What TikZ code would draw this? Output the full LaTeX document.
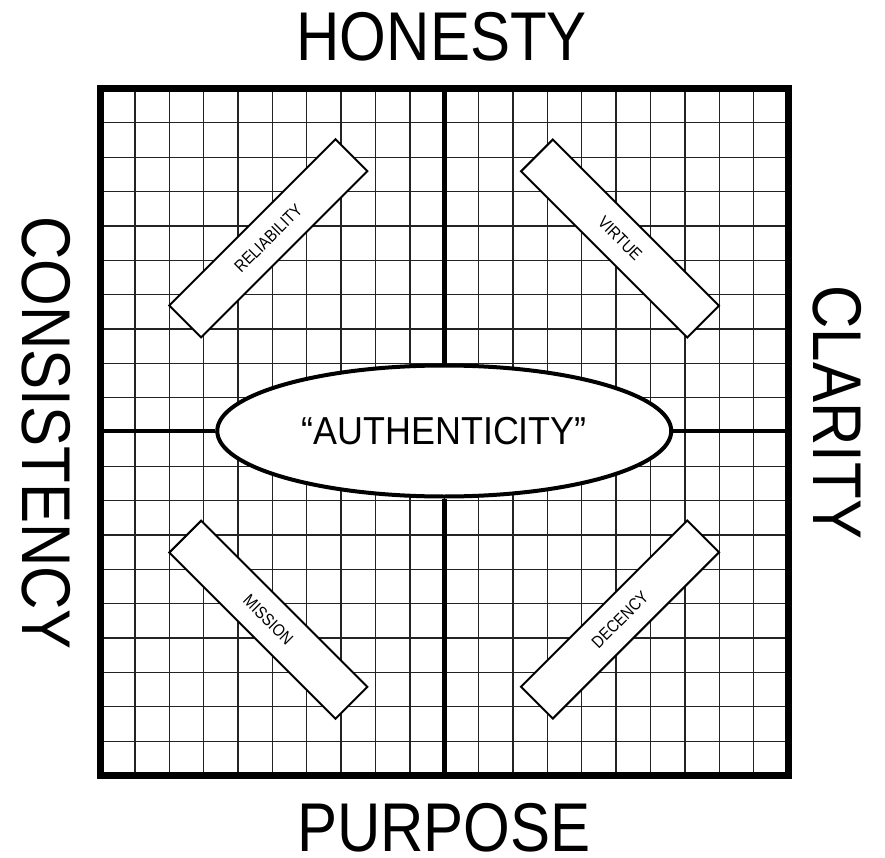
\documentclass[tikz,border=0pt]{standalone}
\usepackage{xcolor}
\usepackage{tikz}
\usepackage{graphicx}
\usepackage{fontspec}
\setmainfont{Liberation Sans}
\usetikzlibrary{shapes.geometric, positioning, calc}
\definecolor{gridgray}{RGB}{35, 35, 35}
\newcommand{\squeezed}[1]{\scalebox{0.87}[1]{#1}}
\tikzset{
    axislabel/.style={inner sep=0pt, font=\fontsize{69}{80}\selectfont},
    valuebox/.style={draw=black, fill=white, line width=2pt, minimum width=235pt,
                     minimum height=45pt, inner sep=0pt, font=\fontsize{17}{20}\selectfont}
}

\begin{document}
\begin{tikzpicture}[x=1pt, y=-1pt]
            \useasboundingbox (0,0) rectangle (885,858);
            \foreach \k in {1,...,19} {
                \draw[gridgray, line width=1.3pt] ({100.5+34.375*\k},88.5) -- ({100.5+34.375*\k},775.5);
                \draw[gridgray, line width=1.3pt] (100.5,{88.5+34.35*\k}) -- (788,{88.5+34.35*\k});
            }
            \coordinate (northmid) at (444.25,88.5);
            \coordinate (southmid) at (444.25,775.5);
            \coordinate (westmid) at (100.5,431);
            \coordinate (eastmid) at (788,431);
            \node[ellipse, draw=black, fill=white, line width=4pt, minimum width=454pt,
                  minimum height=131pt, inner sep=0pt] (authenticity) at (444.25,431) {
                {\fontsize{39}{46}\selectfont\scalebox{0.92}[1]{``AUTHENTICITY''}}
            };
            \draw[line width=4.5pt] (authenticity.north) -- (northmid);
            \draw[line width=4.5pt] (authenticity.south) -- (southmid);
            \draw[line width=4.5pt] (authenticity.west) -- (westmid);
            \draw[line width=4.5pt] (authenticity.east) -- (eastmid);
            \draw[line width=7pt] (100.5,88.5) rectangle (788,775.5);
            \node[valuebox, rotate=45] (reliability) at (268.3,238.3) {\squeezed{RELIABILITY}};
            \node[valuebox, rotate=-45] (virtue) at (620,238.5) {\squeezed{VIRTUE}};
            \node[valuebox, rotate=-45] (mission) at (268.3,619.7) {\squeezed{MISSION}};
            \node[valuebox, rotate=45] (decency) at (620,619.5) {\squeezed{DECENCY}};
            \node[axislabel] (honesty) at (441.7,36.5) {\squeezed{HONESTY}};
            \node[axislabel] (purpose) at (444,827.5) {\squeezed{PURPOSE}};
            \node[axislabel, rotate=-90] (consistency) at (46.7,433) {\squeezed{CONSISTENCY}};
            \node[axislabel, rotate=-90] (clarity) at (837.3,412.3) {\squeezed{CLARITY}};
        \end{tikzpicture}
\end{document}
